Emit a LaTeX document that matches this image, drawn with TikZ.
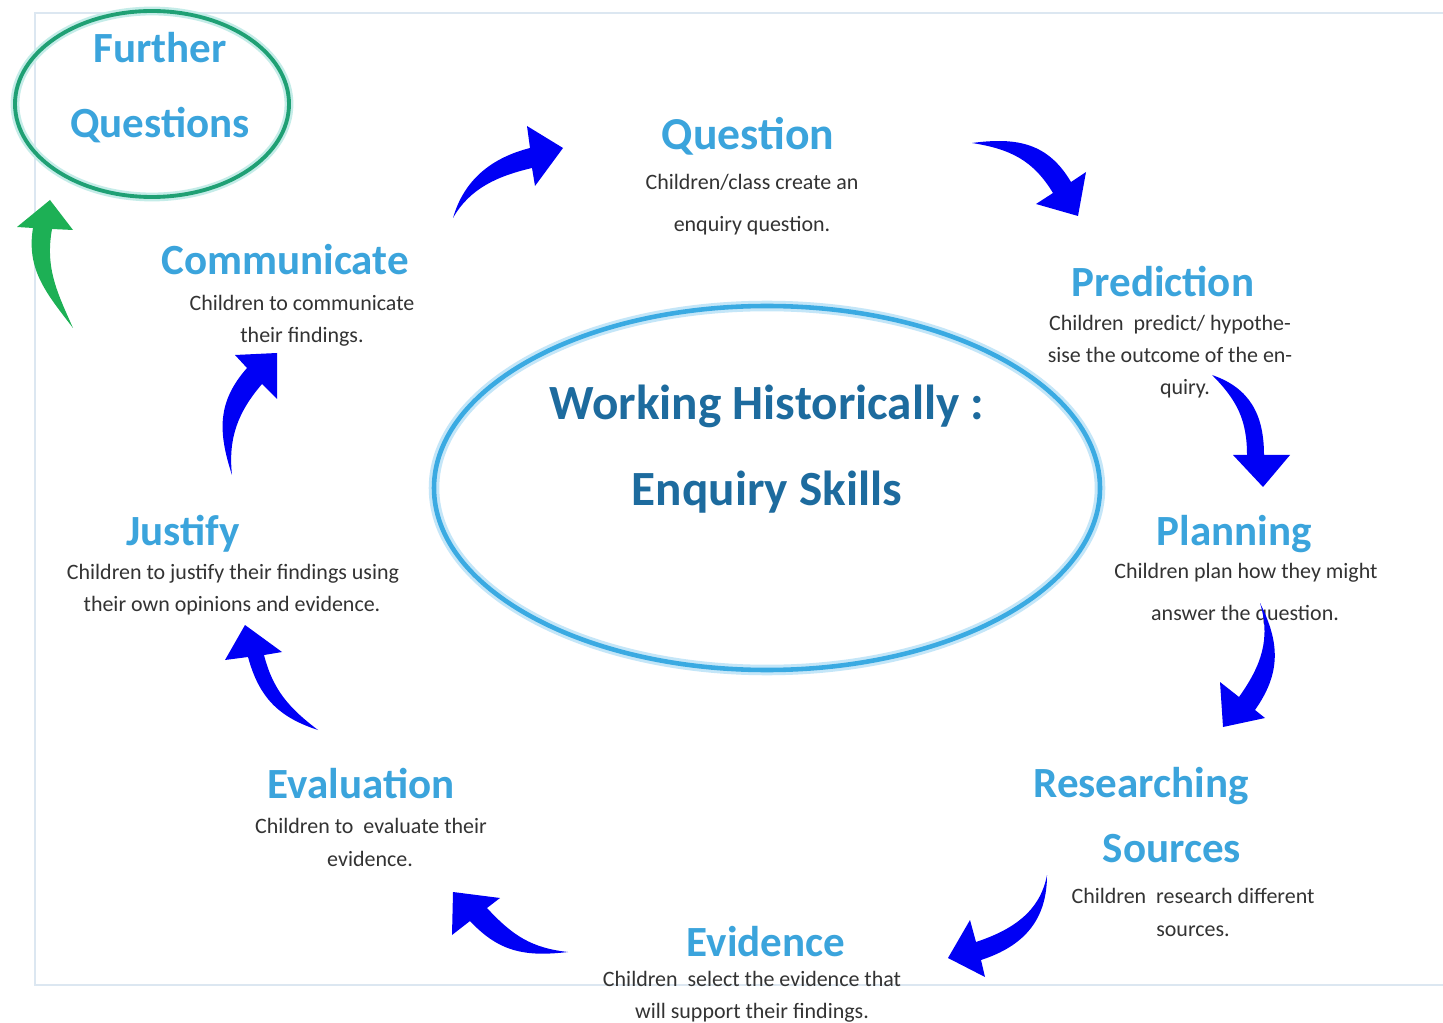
\documentclass[tikz,border=0pt]{standalone}
\usepackage{fontspec}
\setmainfont{Carlito}
\definecolor{headc}{HTML}{3BA4DC}
\definecolor{titlec}{HTML}{1D6B9E}
\definecolor{bodyc}{HTML}{333333}
\definecolor{ringc}{HTML}{3AAAE2}
\definecolor{ringglow}{HTML}{C4E6F8}
\definecolor{greenring}{HTML}{1FA074}
\definecolor{greenglow}{HTML}{C4ECE8}
\definecolor{arrowblue}{HTML}{0000F5}
\definecolor{arrowgreen}{HTML}{1DB055}
\definecolor{framec}{HTML}{DCE7F1}
\begin{document}
\begin{tikzpicture}[x=0.02cm,y=-0.02cm,
  head/.style={anchor=base,text=headc,font=\fontsize{24.5}{28}\selectfont\bfseries},
  body/.style={anchor=base,text=bodyc,font=\fontsize{12.5}{15}\selectfont},
  titletext/.style={anchor=base,text=titlec,font=\fontsize{28}{32}\selectfont\bfseries},
  barrow/.style={fill=arrowblue},
  garrow/.style={fill=arrowgreen}]
\useasboundingbox (0,0) rectangle (1443,1023);
\fill[white] (0,0) rectangle (1443,1023);
% frame
\draw[framec,line width=1.2pt] (35,13) rectangle (1460,985);
% central ellipse
\draw[ringglow,line width=6pt] (767,488) ellipse [x radius=333,y radius=182];
\draw[ringc,line width=2.6pt] (767,488) ellipse [x radius=333,y radius=182];
% further questions ellipse
\draw[greenglow,line width=5pt] (152,104) ellipse [x radius=137,y radius=93];
\draw[greenring,line width=2.2pt] (152,104) ellipse [x radius=137,y radius=93];

% texts
\node[titletext] (t1) at (767,420) {Working Historically :};
\node[titletext] (t2) at (767,505) {Enquiry Skills};

\node[head] (fq1) at (160,63) {Further};
\node[head] (fq2) at (160,138) {Questions};

\node[head,font=\fontsize{26}{30}\selectfont\bfseries] (q) at (748,150) {Question};
\node[body] (q1) at (752,190) {Children/class create an};
\node[body] (q2) at (752,232) {enquiry question.};

\node[head] (p) at (1163,297) {Prediction};
\node[body] (p1) at (1170,331) {Children\ \ predict/ hypothe-};
\node[body] (p2) at (1170,363) {sise the outcome of the en-};
\node[body] (p3) at (1185,395) {quiry.};

\node[head] (pl) at (1234,545) {Planning};
\node[body] (pl1) at (1246,578) {Children plan how they might};
\node[body] (pl2) at (1245,620) {answer the question.};

\node[head] (r) at (1141,797) {Researching};
\node[head] (r2) at (1172,862) {Sources};
\node[body] (r3) at (1193,903) {Children\ \ research different};
\node[body] (r4) at (1193,936) {sources.};

\node[head] (ev) at (766,956) {Evidence};
\node[body] (ev1) at (752,986) {Children\ \ select the evidence that};
\node[body] (ev2) at (752,1018) {will support their findings.};

\node[head] (ea) at (361,798) {Evaluation};
\node[body] (ea1) at (371,833) {Children to\ \ evaluate their};
\node[body] (ea2) at (370,866) {evidence.};

\node[head] (j) at (183,545) {Justify};
\node[body] (j1) at (233,579) {Children to justify their findings using};
\node[body] (j2) at (232,611) {their own opinions and evidence.};

\node[head] (c) at (285,275) {Communicate};
\node[body] (c1) at (302,311) {Children to communicate};
\node[body] (c2) at (302,343) {their findings.};

% arrows
\fill[barrow] (453,218) .. controls (464,180) and (491,158) .. (530,148) -- (527,126) -- (563,148) -- (535,186) -- (532,168) .. controls (498,176) and (470,188) .. (453,218) -- cycle;
\fill[barrow] (972,143) .. controls (1017,137) and (1048,143) .. (1071,182) -- (1086,172) -- (1078,216) -- (1036,204) -- (1053,193) .. controls (1033,160) and (1010,149) .. (972,143) -- cycle;
\fill[barrow] (1212,375) .. controls (1250,388) and (1264,415) .. (1264,455) -- (1290,455) -- (1263,487) -- (1233,455) -- (1247,455) .. controls (1247,420) and (1237,400) .. (1212,375) -- cycle;
\fill[barrow] (1260,603) .. controls (1280,643) and (1281,673) .. (1255,710) -- (1265,718) -- (1223,727) -- (1220,682) -- (1239,697) .. controls (1261,666) and (1271,639) .. (1260,603) -- cycle;
\fill[barrow] (1047,875) .. controls (1047,920) and (1024,946) .. (981,960) -- (985,977) -- (948,958) -- (970,920) -- (976,942) .. controls (1012,930) and (1040,912) .. (1047,875) -- cycle;
\fill[barrow] (568,952) .. controls (525,957) and (499,952) .. (470,921) -- (452,935) -- (453,892) -- (500,898) -- (487,908) .. controls (512,935) and (531,948) .. (568,952) -- cycle;
\fill[barrow] (318,730) .. controls (278,717) and (259,697) .. (248,657) -- (225,660) -- (245,625) -- (282,652) -- (264,655) .. controls (273,690) and (289,708) .. (318,730) -- cycle;
\fill[barrow] (232,475) .. controls (218,432) and (217,402) .. (247,368) -- (235,355) -- (277,353) -- (277,399) -- (262,384) .. controls (238,412) and (228,438) .. (232,475) -- cycle;
\fill[garrow] (73,328) .. controls (47,294) and (26,270) .. (33,228) -- (17,227) -- (50,200) -- (73,230) -- (52,229) .. controls (45,268) and (57,292) .. (73,328) -- cycle;
\end{tikzpicture}
\end{document}
